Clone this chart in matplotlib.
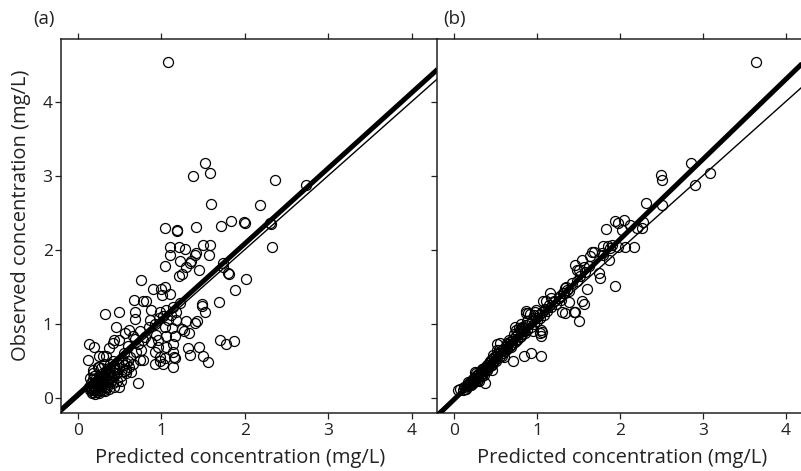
import numpy as np
import matplotlib
matplotlib.use("Agg")
import matplotlib.pyplot as plt

plt.rcParams['font.family'] = ['Open Sans', 'DejaVu Sans']

# (predicted, observed), mg/L
points_a = [
    (1.08, 4.53), (1.52, 3.17), (1.38, 3.00), (1.58, 3.03), (2.36, 2.94), (2.73, 2.87),
    (1.59, 2.62), (2.18, 2.60), (1.04, 2.29), (1.19, 2.27), (1.19, 2.25), (1.42, 2.30),
    (1.72, 2.32), (1.84, 2.39), (1.99, 2.37), (2.00, 2.36), (2.31, 2.34), (2.33, 2.04),
    (1.10, 2.04), (1.21, 2.04), (1.29, 2.01), (1.50, 2.06), (1.58, 2.06), (1.11, 1.93),
    (1.42, 1.96), (1.40, 1.93), (1.57, 1.93), (1.23, 1.84), (1.36, 1.85), (1.34, 1.82),
    (1.04, 1.78), (1.30, 1.77), (1.45, 1.72), (1.21, 1.65), (1.25, 1.67), (1.80, 1.68),
    (1.81, 1.67), (1.74, 1.77), (2.01, 1.60), (0.76, 1.59), (1.88, 1.46), (0.90, 1.47),
    (1.00, 1.47), (1.05, 1.49), (1.10, 1.40), (1.01, 1.39), (0.67, 1.32), (0.78, 1.30),
    (0.82, 1.31), (1.69, 1.29), (1.49, 1.26), (1.49, 1.24), (0.33, 1.13), (0.49, 1.16),
    (0.69, 1.16), (0.88, 1.19), (0.98, 1.16), (1.06, 1.19), (1.14, 1.23), (1.18, 1.16),
    (1.53, 1.16), (0.68, 1.06), (1.30, 1.04), (1.43, 1.03), (1.40, 1.01), (0.46, 0.95),
    (1.05, 0.96), (1.13, 0.94), (1.25, 0.93), (1.27, 0.90), (0.57, 0.87), (0.66, 0.83),
    (0.74, 0.90), (1.33, 0.87), (0.94, 0.85), (1.06, 0.83), (1.16, 0.83), (0.44, 0.78),
    (0.42, 0.74), (0.96, 0.78), (1.70, 0.78), (1.78, 0.72), (1.87, 0.76), (0.14, 0.72),
    (0.20, 0.69), (0.38, 0.67), (0.96, 0.69), (1.06, 0.69), (1.14, 0.72), (1.32, 0.67),
    (1.34, 0.58), (1.45, 0.68), (1.14, 0.62), (1.50, 0.56), (1.56, 0.48), (0.12, 0.51),
    (0.26, 0.57), (0.34, 0.56), (0.93, 0.62), (0.99, 0.55), (1.05, 0.54), (0.92, 0.45),
    (1.02, 0.45), (1.14, 0.42), (1.15, 0.55), (0.66, 0.45), (0.58, 0.38), (0.78, 0.51),
    (0.72, 0.20), (0.42, 0.50), (0.44, 0.42), (0.26, 0.42), (0.18, 0.38), (0.38, 0.24),
    (0.44, 0.15), (0.50, 0.15), (0.58, 0.33), (0.64, 0.35), (0.76, 0.65), (0.74, 0.51),
    (0.78, 0.78), (0.98, 0.49), (1.16, 0.54), (0.58, 0.47), (0.30, 0.56), (0.24, 0.42),
    (1.74, 1.82), (2.30, 2.36),
    (0.15, 0.10), (0.17, 0.12), (0.18, 0.08), (0.20, 0.10), (0.19, 0.14), (0.21, 0.18),
    (0.22, 0.12), (0.23, 0.08), (0.24, 0.15), (0.25, 0.22), (0.16, 0.20), (0.18, 0.25),
    (0.20, 0.30), (0.22, 0.27), (0.26, 0.30), (0.27, 0.18), (0.28, 0.12), (0.29, 0.25),
    (0.30, 0.33), (0.31, 0.10), (0.32, 0.20), (0.33, 0.28), (0.34, 0.36), (0.35, 0.15),
    (0.36, 0.24), (0.37, 0.40), (0.38, 0.32), (0.39, 0.46), (0.40, 0.28), (0.41, 0.36),
    (0.43, 0.30), (0.45, 0.38), (0.47, 0.33), (0.48, 0.45), (0.50, 0.40), (0.52, 0.30),
    (0.53, 0.50), (0.55, 0.36), (0.56, 0.44), (0.60, 0.50), (0.62, 0.41), (0.63, 0.55),
    (0.15, 0.26), (0.13, 0.15), (0.18, 0.33), (0.28, 0.40), (0.31, 0.45), (0.21, 0.05),
    (0.26, 0.06), (0.33, 0.09), (0.38, 0.12), (0.47, 0.22), (0.52, 0.23), (0.42, 0.20),
    (0.55, 0.60), (0.60, 0.70), (0.70, 0.62), (0.68, 0.80), (0.72, 0.72), (0.80, 0.82),
    (0.85, 0.95), (0.88, 0.75), (0.92, 1.00), (0.97, 1.08), (1.02, 1.10), (1.08, 1.05),
    (1.12, 1.12), (1.18, 1.05), (1.22, 1.28), (0.86, 1.05), (0.62, 0.92), (0.50, 0.78),
    (0.16, 0.13), (0.17, 0.07), (0.19, 0.11), (0.20, 0.16), (0.21, 0.13), (0.22, 0.21),
    (0.23, 0.17), (0.24, 0.11), (0.25, 0.14), (0.26, 0.24), (0.27, 0.09), (0.28, 0.20),
    (0.29, 0.16), (0.30, 0.27), (0.31, 0.22), (0.32, 0.14), (0.34, 0.25), (0.35, 0.31),
    (0.36, 0.18), (0.37, 0.28), (0.39, 0.35), (0.40, 0.22), (0.42, 0.40), (0.44, 0.33),
]

points_b = [
    (3.64, 4.53), (2.85, 3.17), (2.49, 3.01), (2.51, 2.94), (3.09, 3.04), (2.90, 2.87),
    (2.31, 2.63), (2.51, 2.60), (1.83, 2.28), (1.94, 2.38), (1.98, 2.36), (2.05, 2.40),
    (2.02, 2.26), (2.12, 2.33), (2.21, 2.29), (2.27, 2.29), (2.28, 2.37), (1.80, 2.05),
    (1.85, 2.05), (1.90, 2.06), (1.88, 2.02), (1.98, 2.04), (2.06, 2.04), (2.17, 2.04),
    (1.78, 1.95), (1.66, 1.97), (1.64, 1.91), (1.68, 1.97), (1.80, 1.93), (1.54, 1.86),
    (1.46, 1.79), (1.48, 1.73), (1.56, 1.77), (1.50, 1.73), (1.87, 1.86), (1.74, 1.69),
    (1.76, 1.62), (1.94, 1.51), (1.35, 1.50), (1.34, 1.48), (1.36, 1.46), (1.31, 1.41),
    (1.60, 1.47), (1.15, 1.41), (1.07, 1.31), (1.11, 1.30), (1.17, 1.35), (1.27, 1.37),
    (1.54, 1.31), (1.56, 1.27), (1.38, 1.29), (1.46, 1.16), (1.51, 1.03), (0.87, 1.17),
    (0.89, 1.14), (0.97, 1.16), (0.99, 1.19), (0.91, 1.13), (1.30, 1.16), (1.34, 1.14),
    (1.45, 1.16), (1.05, 0.92), (1.05, 0.84), (0.93, 0.61), (1.05, 0.57), (0.71, 0.49),
    (0.84, 0.57), (0.73, 0.96), (0.79, 0.92), (0.76, 0.78), (0.81, 0.83), (0.82, 0.96),
    (0.74, 0.92), (0.55, 0.74), (0.52, 0.72), (0.47, 0.58), (0.51, 0.65), (0.59, 0.60),
    (0.63, 0.67), (0.37, 0.20), (0.34, 0.29), (0.27, 0.22), (0.05, 0.11), (0.07, 0.12),
    (0.13, 0.12), (1.04, 0.87), (1.06, 0.89), (0.96, 1.12), (0.86, 1.14),
    (0.10, 0.10), (0.12, 0.14), (0.14, 0.12), (0.15, 0.17), (0.17, 0.16), (0.18, 0.20),
    (0.19, 0.18), (0.20, 0.22), (0.21, 0.19), (0.22, 0.25), (0.23, 0.22), (0.24, 0.27),
    (0.25, 0.24), (0.26, 0.29), (0.27, 0.26), (0.28, 0.31), (0.29, 0.28), (0.30, 0.33),
    (0.31, 0.30), (0.32, 0.35), (0.33, 0.32), (0.34, 0.38), (0.35, 0.34), (0.36, 0.40),
    (0.37, 0.36), (0.38, 0.42), (0.39, 0.38), (0.40, 0.44), (0.41, 0.41), (0.42, 0.47),
    (0.43, 0.43), (0.44, 0.50), (0.45, 0.46), (0.46, 0.52), (0.47, 0.48), (0.48, 0.55),
    (0.49, 0.51), (0.50, 0.57), (0.52, 0.54), (0.53, 0.60), (0.55, 0.57), (0.56, 0.63),
    (0.58, 0.60), (0.59, 0.66), (0.61, 0.63), (0.62, 0.70), (0.64, 0.66), (0.65, 0.73),
    (0.67, 0.70), (0.68, 0.77), (0.70, 0.72), (0.71, 0.80), (0.73, 0.75), (0.74, 0.84),
    (0.76, 0.80), (0.77, 0.88), (0.79, 0.82), (0.80, 0.90), (0.82, 0.86), (0.83, 0.94),
    (0.85, 0.88), (0.86, 0.98), (0.88, 0.92), (0.90, 1.00), (0.92, 0.96), (0.94, 1.04),
    (0.96, 0.99), (0.98, 1.08), (1.00, 1.03), (1.02, 1.12), (1.04, 1.08), (1.06, 1.16),
    (1.08, 1.12), (1.10, 1.20), (1.12, 1.17), (1.14, 1.25), (1.17, 1.22), (1.20, 1.30),
    (1.23, 1.26), (1.26, 1.35), (1.29, 1.32), (1.32, 1.42), (1.38, 1.44), (1.42, 1.55),
    (1.48, 1.58), (1.52, 1.64), (1.58, 1.70), (1.62, 1.78), (0.25, 0.35), (0.30, 0.22),
    (0.45, 0.38), (0.60, 0.55), (0.66, 0.78), (0.78, 0.94), (0.88, 1.04), (0.95, 0.90),
    (0.16, 0.21), (0.20, 0.17), (0.24, 0.21), (0.26, 0.33), (0.29, 0.24), (0.33, 0.39),
    (0.36, 0.31), (0.40, 0.38), (0.43, 0.50), (0.46, 0.44), (0.50, 0.50), (0.54, 0.64),
    (0.57, 0.56), (0.63, 0.74), (0.69, 0.68), (0.72, 0.86), (0.81, 1.00), (0.84, 0.90),
]

# (intercept, slope) of the thick fitted line per panel
fit_a = (0.04, 1.02)
fit_b = (-0.02, 1.08)

panel_labels = ["(a)", "(b)"]
ticks = [0, 1, 2, 3, 4]
XLABEL = "Predicted concentration (mg/L)"
YLABEL = "Observed concentration (mg/L)"

W, H = 801, 471
fig = plt.figure(figsize=(W / 100, H / 100), dpi=100)

ax_a = fig.add_axes([61 / W, (H - 413.3) / H, 376.7 / W, 374 / H])
ax_b = fig.add_axes([437.3 / W, (H - 413.3) / H, 376.7 / W, 374 / H])

xlims = [(-0.2, 4.31), (-0.205, 4.34)]
label_x = [-0.074, 0.015]
for ax, pts, fit, lab, xl, lx in zip([ax_a, ax_b], [points_a, points_b], [fit_a, fit_b],
                                     panel_labels, xlims, label_x):
    pts = np.array(pts)
    ax.plot(pts[:, 0], pts[:, 1], 'o', mfc='none', mec='black', ms=7.2, mew=0.9,
            clip_on=True, zorder=2)
    ax.axline((0, 0), slope=1.0, color='black', lw=1.0, zorder=3)
    ax.axline((0, fit[0]), slope=fit[1], color='black', lw=3.6, zorder=4,
              solid_capstyle='butt')
    ax.set_xlim(*xl)
    ax.set_ylim(-0.21, 4.84)
    ax.set_xticks(ticks)
    ax.set_yticks(ticks)
    ax.tick_params(axis='both', direction='out', length=4.5, width=0.9,
                   labelsize=12.5, color='#222222', labelcolor='#222222')
    ax.tick_params(axis='x', top=True, pad=2.5)
    ax.tick_params(axis='y', pad=1.5)
    for s in ax.spines.values():
        s.set_linewidth(1.1)
        s.set_color('#222222')
    ax.set_xlabel(XLABEL, fontsize=14.5, color='#222222', va='center')
    ax.text(lx, 1.055, lab, transform=ax.transAxes, fontsize=13.5, color='#222222',
            ha='left', va='center')

ax_a.spines['right'].set_visible(False)
ax_a.xaxis.set_label_coords(0.4765, -0.12)
ax_b.xaxis.set_label_coords(0.49, -0.12)
ax_b.tick_params(axis='y', labelleft=False)

ax_a.set_ylabel(YLABEL, fontsize=14.5, color='#222222', va='center')
ax_a.yaxis.set_label_coords(-0.105, 0.53)

fig.savefig("out.png", dpi=100)
